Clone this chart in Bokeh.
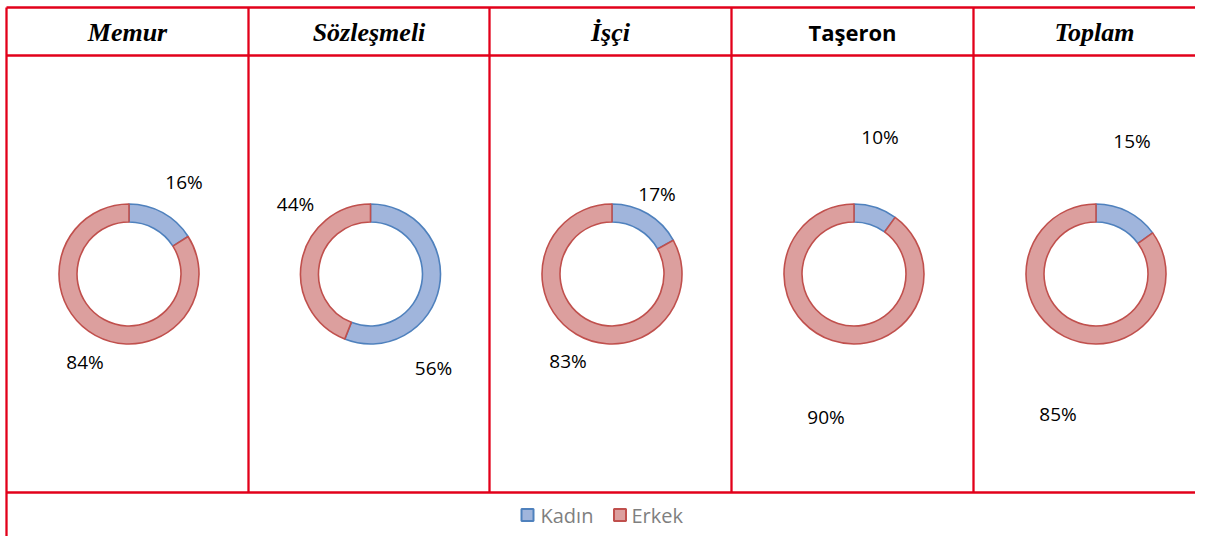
import math
from bokeh.plotting import figure
from bokeh.models import Range1d, ColumnDataSource
from bokeh.core.properties import value
from bokeh.embed import file_html
from bokeh.resources import INLINE

# ---- data ----
categories = ["Memur", "Sözleşmeli", "İşçi", "Taşeron", "Toplam"]
kadin = [16, 56, 17, 10, 15]
erkek = [84, 44, 83, 90, 85]
series_names = ["Kadın", "Erkek"]

# ---- styles / layout ----
W, H = 1195, 536
RED = "#e2001a"
FILL = {"Kadın": "#a0b5dc", "Erkek": "#dc9f9e"}
EDGE = {"Kadın": "#4f81bd", "Erkek": "#c0504d"}
col_edges = [6, 248, 489, 731, 973, 1215]
header_top, header_bottom, body_bottom = 7, 55, 492
donut_cy = 273.5
r_out, r_in = 70, 52
# label offsets (screen px, relative to donut centre): (kadin, erkek)
label_offsets = [
    ((55, -92), (-44, 88)),
    ((63, 94), (-75, -70)),
    ((45, -80), (-44, 87)),
    ((26, -137), (-28, 143)),
    ((36, -133), (-38, 140)),
]
title_fonts = ["serif", "serif", "serif", "sans", "serif"]


def Y(sy):
    return 552 - sy


p = figure(width=W, height=H, output_backend="svg", toolbar_location=None,
           x_range=Range1d(0, W), y_range=Range1d(552 - H, 552),
           min_border=0)
p.axis.visible = False
p.grid.visible = False
p.outline_line_color = None
p.background_fill_color = "white"
p.border_fill_color = "white"

# ---- table lines ----
x0s, y0s, x1s, y1s = [], [], [], []
for yy in (header_top, header_bottom, body_bottom):
    x0s.append(col_edges[0]); x1s.append(1215); y0s.append(Y(yy)); y1s.append(Y(yy))
x0s.append(col_edges[0]); x1s.append(col_edges[0]); y0s.append(Y(header_top)); y1s.append(Y(560))
for xe in col_edges[1:-1]:
    x0s.append(xe); x1s.append(xe); y0s.append(Y(header_top)); y1s.append(Y(body_bottom))
p.segment(x0s, y0s, x1s, y1s, line_color=RED, line_width=2.3)

# ---- donuts ----
cx_list = [(col_edges[i] + col_edges[i + 1]) / 2 + 1.5 for i in range(len(categories))]
for i, cat in enumerate(categories):
    vals = [kadin[i], erkek[i]]
    total = sum(vals)
    cum = 0.0
    starts, ends, fills, edges = [], [], [], []
    for name, v in zip(series_names, vals):
        a0 = math.pi / 2 - 2 * math.pi * cum / total
        cum += v
        a1 = math.pi / 2 - 2 * math.pi * cum / total
        starts.append(a0); ends.append(a1)
        fills.append(FILL[name]); edges.append(EDGE[name])
    src = ColumnDataSource(dict(x=[cx_list[i]] * 2, y=[Y(donut_cy)] * 2,
                                start=starts, end=ends, fill=fills, edge=edges))
    p.annular_wedge(x="x", y="y", inner_radius=r_in, outer_radius=r_out,
                    start_angle="start", end_angle="end", direction="clock",
                    fill_color="fill", line_color="edge", line_width=1.6, source=src)
    # labels
    lx, ly, lt = [], [], []
    for (dx, dy), v in zip(label_offsets[i], vals):
        lx.append(cx_list[i] + dx); ly.append(Y(donut_cy + dy)); lt.append(f"{v}%")
    p.text(lx, ly, text=lt, text_align="center", text_baseline="middle",
           text_font=value("Open Sans"), text_font_size="19px", text_color="#000000")

# ---- header titles ----
for i, cat in enumerate(categories):
    cx = (col_edges[i] + col_edges[i + 1]) / 2
    if title_fonts[i] == "serif":
        p.text([cx], [Y(32)], text=[cat], text_align="center", text_baseline="middle",
               text_font=value("Liberation Serif"), text_font_style="bold italic",
               text_font_size="26px", text_color="#000000")
    else:
        p.text([cx], [Y(31)], text=[cat], text_align="center", text_baseline="middle",
               text_font=value("Open Sans"), text_font_style="bold",
               text_font_size="22px", text_color="#000000")

# ---- legend ----
leg_sq_x = [527, 619.5]
leg_txt_x = [540, 631]
for name, sx, tx in zip(series_names, leg_sq_x, leg_txt_x):
    p.rect([sx], [Y(514.5)], width=12, height=12, fill_color=FILL[name],
           line_color=EDGE[name], line_width=2)
    p.text([tx], [Y(514.5)], text=[name], text_align="left", text_baseline="middle",
           text_font=value("Open Sans"), text_font_size="20px", text_color="#7f7f7f")

open("out.html", "w").write(file_html(p, INLINE))
